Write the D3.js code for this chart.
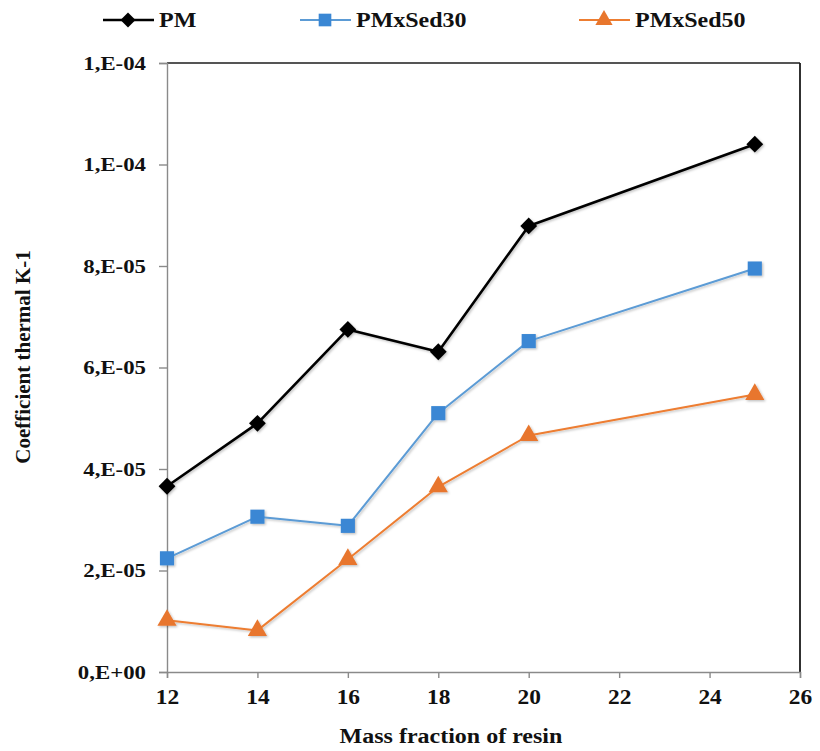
<!DOCTYPE html>
<html>
<head>
<meta charset="utf-8">
<script src="https://cdn.jsdelivr.net/npm/d3@7"></script>
<style>
  html, body { margin: 0; padding: 0; background: #fff; }
  svg { display: block; }
  text { font-family: "Liberation Serif", "Times New Roman", serif; font-weight: bold; fill: #111; }
</style>
</head>
<body>
<svg id="chart" width="820" height="751"></svg>
<script>
// Mass fraction of resin (%)
const massFraction = [12, 14, 16, 18, 20, 25];

// Thermal coefficient (K-1) per formulation
const pm        = [3.66e-5, 4.90e-5, 6.75e-5, 6.31e-5, 8.79e-5, 1.040e-4];
const pmSed30   = [2.24e-5, 3.06e-5, 2.88e-5, 5.10e-5, 6.52e-5, 7.95e-5];
const pmSed50   = [1.02e-5, 0.82e-5, 2.22e-5, 3.65e-5, 4.66e-5, 5.47e-5];

const xTicks = [12, 14, 16, 18, 20, 22, 24, 26];
const yTicks = [0, 2e-5, 4e-5, 6e-5, 8e-5, 1e-4, 1.2e-4];
const yTickLabels = ["0,E+00", "2,E-05", "4,E-05", "6,E-05", "8,E-05", "1,E-04", "1,E-04"];

const seriesNames = ["PM", "PMxSed30", "PMxSed50"];

const series = [
  { name: seriesNames[0], values: pm,      line: "#000000", fill: "#000000", width: 2.6, symbol: d3.symbolDiamond2, size: 180 },
  { name: seriesNames[1], values: pmSed30, line: "#5b9bd5", fill: "#3a87d4", width: 2.0, symbol: d3.symbolSquare,   size: 200 },
  { name: seriesNames[2], values: pmSed50, line: "#ed7d31", fill: "#e8762d", width: 2.0, symbol: d3.symbolTriangle, size: 160 }
];

// text in this chart is set wide: widen each label around its anchor
const WIDEN = 1.17;
function widen(sel) {
  sel.each(function () {
    const len = this.getComputedTextLength();
    d3.select(this).attr("textLength", len * WIDEN).attr("lengthAdjust", "spacingAndGlyphs");
  });
}

const svg = d3.select("#chart");
const plot = { left: 167, right: 800, top: 63, bottom: 672 };

const x = d3.scaleLinear().domain([12, 26]).range([plot.left, plot.right]);
const y = d3.scaleLinear().domain([0, 1.2e-4]).range([plot.bottom, plot.top]);

// soft drop shadow under the series lines and markers
const defs = svg.append("defs");
const shadow = defs.append("filter").attr("id", "shadow")
  .attr("x", "-20%").attr("y", "-20%").attr("width", "140%").attr("height", "140%");
shadow.append("feDropShadow").attr("dx", 1.3).attr("dy", 1.3)
  .attr("stdDeviation", 1.3).attr("flood-color", "#000").attr("flood-opacity", 0.25);

// plot frame: top and right edges
svg.append("path")
  .attr("d", `M${plot.left},${plot.top}H${plot.right}`)
  .attr("fill", "none").attr("stroke", "#555").attr("stroke-width", 1.8);
svg.append("path")
  .attr("d", `M${plot.right},${plot.top}V${plot.bottom}`)
  .attr("fill", "none").attr("stroke", "#1a1a1a").attr("stroke-width", 1.8);

// y axis
const yAxis = svg.append("g")
  .attr("transform", `translate(${plot.left},0)`)
  .call(d3.axisLeft(y).tickValues(yTicks).tickSize(8).tickPadding(13)
    .tickFormat((d, i) => yTickLabels[i]));
yAxis.select(".domain").attr("stroke", "#8a8a8a").attr("stroke-width", 1.4);
yAxis.selectAll(".tick line").attr("stroke", "#8a8a8a").attr("stroke-width", 1.4);
yAxis.selectAll(".tick text")
  .attr("font-family", null).attr("font-size", 19.5).attr("fill", "#111")
  .call(widen);

// x axis
const xAxis = svg.append("g")
  .attr("transform", `translate(0,${plot.bottom})`)
  .call(d3.axisBottom(x).tickValues(xTicks).tickSize(6).tickPadding(12)
    .tickFormat(d3.format("d")));
xAxis.select(".domain").attr("stroke", "#8a8a8a").attr("stroke-width", 1.4);
xAxis.selectAll(".tick line").attr("stroke", "#8a8a8a").attr("stroke-width", 1.4);
xAxis.selectAll(".tick text")
  .attr("font-family", null).attr("font-size", 20).attr("fill", "#111")
  .call(widen);

// axis titles
svg.append("text")
  .attr("x", 451).attr("y", 743)
  .attr("text-anchor", "middle")
  .attr("font-size", 20.5)
  .text("Mass fraction of resin")
  .call(widen);

svg.append("text")
  .attr("transform", `translate(30,357) rotate(-90)`)
  .attr("text-anchor", "middle")
  .attr("font-size", 21)
  .text("Coefficient thermal K-1");

// series lines and markers
const line = d3.line().x((d, i) => x(massFraction[i])).y(d => y(d));

series.forEach(s => {
  const g = svg.append("g").attr("filter", "url(#shadow)");
  g.append("path")
    .datum(s.values)
    .attr("d", line)
    .attr("fill", "none")
    .attr("stroke", s.line)
    .attr("stroke-width", s.width)
    .attr("stroke-linejoin", "round");
  g.selectAll("path.marker")
    .data(s.values)
    .join("path")
    .attr("class", "marker")
    .attr("transform", (d, i) => `translate(${x(massFraction[i])},${y(d)})`)
    .attr("d", d3.symbol().type(s.symbol).size(s.size))
    .attr("fill", s.fill);
});

// legend
const legendItems = [
  { s: series[0], x0: 103 },
  { s: series[1], x0: 300 },
  { s: series[2], x0: 579 }
];
const legendY = 20;
legendItems.forEach(({ s, x0 }) => {
  const g = svg.append("g");
  g.append("line")
    .attr("x1", x0).attr("x2", x0 + 51)
    .attr("y1", legendY).attr("y2", legendY)
    .attr("stroke", s.line).attr("stroke-width", s.width);
  g.append("path")
    .attr("transform", `translate(${x0 + 25},${legendY})`)
    .attr("d", d3.symbol().type(s.symbol).size(s.size * 0.8))
    .attr("fill", s.fill);
  g.append("text")
    .attr("x", x0 + 56).attr("y", legendY)
    .attr("dy", "0.35em")
    .attr("font-size", 20.5)
    .text(s.name)
    .call(widen);
});
</script>
</body>
</html>
